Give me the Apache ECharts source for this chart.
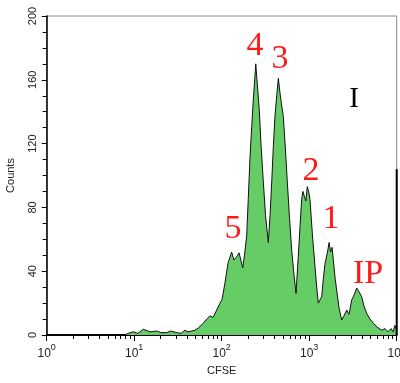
<!DOCTYPE html>
<html><head><meta charset="utf-8">
<script src="https://cdn.jsdelivr.net/npm/echarts@6/dist/echarts.min.js"></script>
<style>html,body{margin:0;padding:0;background:#fff}#c{width:400px;height:383px}</style>
</head><body><div id="c"></div>
<script>
// CFSE channel values (linear units, plotted on log axis)
const cfse = [1, 7.85, 8.5, 9.8, 11.0, 12.7, 15.2, 18.1, 20.2, 23.5, 26.3, 30.6, 34.3, 38.1, 41.2, 45.4, 49.5, 54.1, 61.6, 67.4, 73.5, 79.6, 87.7, 95.7, 100.7, 109, 118, 130, 138, 148, 158, 174, 182, 193, 201, 211, 220, 230, 237, 245, 253, 269, 281, 299, 317, 341, 357, 373, 389, 406, 425, 444, 463, 482, 506, 533, 562, 596, 631, 670, 707, 750, 785, 820, 849, 879, 914, 951, 986, 1021, 1091, 1165, 1218, 1271, 1329, 1390, 1449, 1517, 1620, 1686, 1754, 1824, 1888, 1974, 2063, 2193, 2351, 2499, 2683, 2852, 3062, 3254, 3494, 3715, 3981, 4236, 4541, 4955, 5408, 5960, 6745, 7350, 7960, 8610, 9080, 9550, 10000];
const counts = [0, 0, 1, 2, 1, 3.6, 2, 2.5, 1.5, 1.5, 2.5, 1.5, 1, 3, 2, 2.5, 3, 4.4, 7.4, 10, 12, 11, 15.7, 20, 22, 32.7, 45, 52, 47, 49, 51.5, 42, 50, 62, 85, 112, 130, 148, 158, 170, 160, 141, 120, 96, 75, 58, 75, 96, 118, 137, 150, 161, 152, 145, 137, 118, 96, 73, 53, 38, 26, 49, 68, 85, 90, 87, 84, 93, 90, 85, 62, 43, 30, 20, 22, 24, 35, 45, 52, 58, 52, 55, 47, 36, 28, 17, 9.4, 12, 15.7, 13, 22, 25, 29.4, 27, 24, 18, 13.6, 10, 7.4, 5, 3, 4, 2, 4, 2, 6, 3];
// last channel pile-up
const lastChannel = [[10000, 0], [10000, 104]];
const xMajorTicks = [1, 10, 100, 1000, 10000];
const xMinorTicks = [2,3,4,5,6,7,8,9,20,30,40,50,60,70,80,90,200,300,400,500,600,700,800,900,2000,3000,4000,5000,6000,7000,8000,9000];
const yTicks = [0, 40, 80, 120, 160, 200];
const peakLabels = ['4', '3', '2', '1', '5', 'IP'];
const gateLabel = 'I';

const chart = echarts.init(document.getElementById('c'), null, {renderer: 'canvas'});
const gridRect = {left: 46.7, right: 3.3, top: 16, bottom: 48, containLabel: false, outerBoundsMode: 'none'};
const labelPos = [[255, 46], [280, 59], [311, 171], [331, 219], [233, 229], [368, 274]];
const red = '#ff1a1a';
const graphics = peakLabels.map((t, i) => ({
  type: 'text', x: labelPos[i][0], y: labelPos[i][1], z: 100,
  style: {text: t, fill: red, font: '34px "Liberation Serif", serif', align: 'center', verticalAlign: 'middle'}
}));
graphics.push({type: 'text', x: 354, y: 99, z: 100,
  style: {text: gateLabel, fill: '#000', font: '29px "Liberation Serif", serif', align: 'center', verticalAlign: 'middle'}});

chart.setOption({
  animation: false,
  backgroundColor: '#fff',
  textStyle: {fontFamily: '"Liberation Sans", Arial, sans-serif'},
  grid: [
    Object.assign({show: true, borderColor: '#888', borderWidth: 1, backgroundColor: 'transparent'}, gridRect),
    Object.assign({show: false}, gridRect)
  ],
  xAxis: [{
    type: 'log', logBase: 10, min: 1, max: 10000, gridIndex: 0,
    name: 'CFSE', nameLocation: 'middle', nameGap: 30,
    nameTextStyle: {fontSize: 11, color: '#222'},
    axisLine: {show: true, lineStyle: {color: '#000', width: 2}},
    axisTick: {show: true, length: 6, lineStyle: {color: '#000', width: 1}},
    splitLine: {show: false},
    axisLabel: {
      margin: 8, color: '#222',
      customValues: xMajorTicks,
      formatter: v => '{b|10}{s|' + Math.round(Math.log10(v)) + '}',
      rich: {b: {fontSize: 12, color: '#222', verticalAlign: 'bottom'}, s: {fontSize: 9, color: '#222', verticalAlign: 'top', padding: [0, 0, 8, 0]}}
    }
  }, {
    type: 'log', logBase: 10, min: 1, max: 10000, gridIndex: 1,
    axisLine: {show: false},
    axisTick: {show: true, length: 4, customValues: xMinorTicks, lineStyle: {color: '#000', width: 1}},
    axisLabel: {show: false}, splitLine: {show: false}
  }],
  yAxis: [{
    type: 'value', min: 0, max: 200, interval: 40, gridIndex: 0,
    name: 'Counts', nameLocation: 'middle', nameGap: 30, nameRotate: 90,
    nameTextStyle: {fontSize: 11, color: '#222'},
    axisLine: {show: true, lineStyle: {color: '#000', width: 1.5}},
    axisTick: {show: true, length: 5, lineStyle: {color: '#000'}},
    minorTick: {show: true, splitNumber: 4, length: 4, lineStyle: {color: '#000'}},
    splitLine: {show: false}, minorSplitLine: {show: false},
    axisLabel: {rotate: 90, fontSize: 11, color: '#222', margin: 8, customValues: yTicks}
  }, {
    type: 'value', min: 0, max: 200, gridIndex: 1, show: false
  }],
  graphic: graphics,
  series: [{
    type: 'line', xAxisIndex: 0, yAxisIndex: 0,
    data: cfse.map((v, i) => [v, counts[i]]),
    symbol: 'none', smooth: false,
    lineStyle: {color: '#111', width: 1},
    areaStyle: {color: '#66cc66', opacity: 1}
  }, {
    type: 'line', xAxisIndex: 0, yAxisIndex: 0,
    data: lastChannel, symbol: 'none',
    lineStyle: {color: '#000', width: 2}
  }]
});
</script></body></html>
